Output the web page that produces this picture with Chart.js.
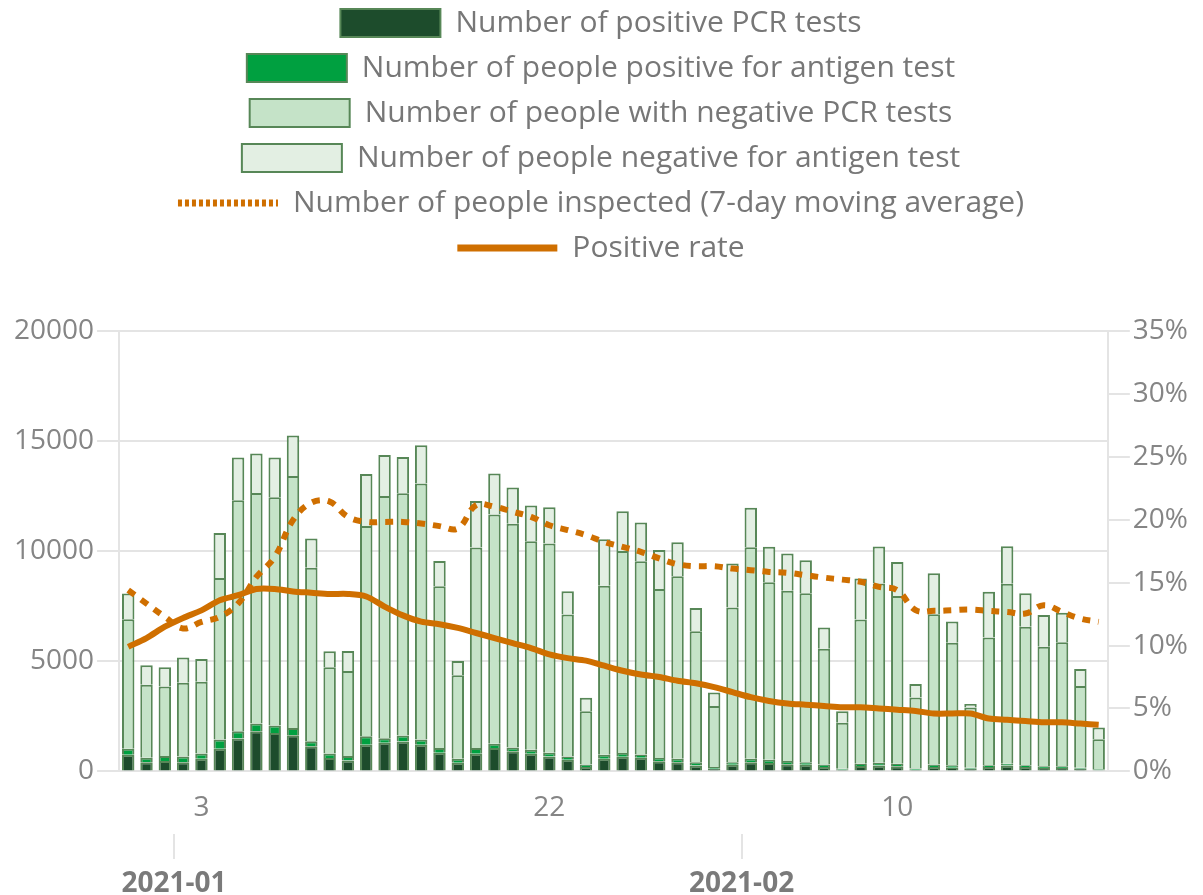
<!DOCTYPE html>
<html>
<head>
<meta charset="utf-8">
<script src="https://cdn.jsdelivr.net/npm/chart.js@4/dist/chart.umd.min.js"></script>
<style>
  body { margin: 0; background: #fff; }
  #wrap { width: 1203px; height: 895px; }
</style>
</head>
<body>
<div id="wrap"><canvas id="tests"></canvas></div>
<script>
const labels = [
  '2020-12-30', '2020-12-31',
  '2021-01-01', '2021-01-02', '2021-01-03', '2021-01-04', '2021-01-05', '2021-01-06', '2021-01-07', '2021-01-08',
  '2021-01-09', '2021-01-10', '2021-01-11', '2021-01-12', '2021-01-13', '2021-01-14', '2021-01-15', '2021-01-16',
  '2021-01-17', '2021-01-18', '2021-01-19', '2021-01-20', '2021-01-21', '2021-01-22', '2021-01-23', '2021-01-24',
  '2021-01-25', '2021-01-26', '2021-01-27', '2021-01-28', '2021-01-29', '2021-01-30', '2021-01-31',
  '2021-02-01', '2021-02-02', '2021-02-03', '2021-02-04', '2021-02-05', '2021-02-06', '2021-02-07', '2021-02-08',
  '2021-02-09', '2021-02-10', '2021-02-11', '2021-02-12', '2021-02-13', '2021-02-14', '2021-02-15', '2021-02-16',
  '2021-02-17', '2021-02-18', '2021-02-19', '2021-02-20', '2021-02-21',
];
const dayTickDates = ['2021-01-03', '2021-01-22', '2021-02-10'];
const monthLabels = ['2021-01', '2021-02'];

const pcrPositive = [760, 420, 470, 420, 580, 1030, 1490, 1820, 1740, 1640, 1140, 610, 500, 1210, 1300, 1360, 1210, 850, 390, 800,
  1060, 910, 800, 680, 530, 200, 580, 670, 620, 460, 420, 270, 120, 300, 420, 380, 320, 300, 200, 80,
  240, 270, 230, 80, 200, 170, 120, 200, 270, 200, 150, 150, 120, 50];
const antigenPositive = [270, 200, 230, 260, 230, 420, 330, 350, 350, 330, 230, 200, 200, 390, 210, 270, 240, 210, 180, 260,
  200, 170, 180, 170, 150, 110, 180, 170, 150, 150, 150, 150, 80, 120, 150, 150, 150, 120, 110, 40,
  110, 120, 120, 50, 110, 110, 50, 80, 80, 80, 80, 80, 50, 50];
const pcrNegative = [5880, 3320, 3150, 3350, 3260, 7330, 10490, 10470, 10360, 11450, 7880, 3920, 3860, 9550, 11000, 11000, 11620, 7350, 3800, 9110,
  10410, 10170, 9470, 9500, 6450, 2420, 7670, 9170, 8770, 7670, 8290, 5940, 2770, 7020, 9610, 8060, 7730, 7670, 5260, 2090,
  6550, 8140, 7610, 3230, 6830, 5560, 2730, 5800, 8170, 6290, 5430, 5640, 3710, 1360];
const antigenNegative = [1170, 880, 880, 1140, 1030, 2050, 1940, 1800, 1800, 1830, 1330, 730, 910, 2360, 1860, 1650, 1740, 1140, 640, 2110,
  1860, 1640, 1620, 1650, 1050, 610, 2110, 1800, 1760, 1770, 1550, 1060, 610, 2000, 1790, 1610, 1700, 1500, 970, 520,
  1860, 1680, 1550, 610, 1860, 970, 160, 2080, 1700, 1520, 1440, 1330, 770, 530];
const movingAverage = [8230, 7620, 7020, 6490, 6790, 7020, 7620, 8830, 9740, 11410, 12200, 12250, 11560, 11330, 11330, 11330, 11260, 11140, 11030, 12090,
  12020, 11790, 11560, 11180, 10960, 10730, 10420, 10200, 9970, 9670, 9410, 9320, 9320, 9210, 9140, 9060, 9020, 8910, 8800, 8710,
  8610, 8380, 8230, 7320, 7290, 7320, 7350, 7290, 7240, 7170, 7550, 7240, 6940, 6790];
const positiveRate = [9.9, 10.6, 11.5, 12.2, 12.8, 13.6, 14.0, 14.5, 14.5, 14.3, 14.2, 14.1, 14.1, 13.9, 13.1, 12.4, 11.9, 11.7, 11.4, 11.0,
  10.6, 10.2, 9.8, 9.3, 9.0, 8.8, 8.4, 8.0, 7.7, 7.5, 7.2, 7.0, 6.7, 6.3, 5.9, 5.6, 5.4, 5.3, 5.2, 5.1,
  5.1, 5.0, 4.9, 4.8, 4.6, 4.6, 4.6, 4.2, 4.1, 4.0, 3.9, 3.9, 3.8, 3.7];

const edge = '#578757';
const orange = '#cf6f00';
const grid = '#e4e4e4';
const textGray = '#858585';

Chart.defaults.font.family = "'Open Sans', sans-serif";
Chart.defaults.font.size = 28;
Chart.defaults.color = textGray;

function bar(label, data, color) {
  return {
    label: label,
    data: data,
    backgroundColor: color,
    borderColor: edge,
    borderWidth: 2,
    categoryPercentage: 1,
    barPercentage: 0.68,
    yAxisID: 'y',
    order: 1,
  };
}

// one legend item per row, and some room between legend and plot
const legendRows = {
  id: 'legendRows',
  afterInit(chart) {
    const fit = chart.legend.fit;
    chart.legend.fit = function () {
      const full = this.maxWidth;
      this.maxWidth = Math.min(full, 1000);
      fit.call(this);
      this.maxWidth = full;
      this.height += 58;
    };
  },
};

const ctx = document.getElementById('tests').getContext('2d');
const testsChart = new Chart(ctx, {
  type: 'bar',
  data: {
    labels: labels,
    datasets: [
      bar('Number of positive PCR tests', pcrPositive, '#1d4c2c'),
      bar('Number of people positive for antigen test', antigenPositive, '#00a040'),
      bar('Number of people with negative PCR tests', pcrNegative, '#c5e3c8'),
      bar('Number of people negative for antigen test', antigenNegative, '#e3efe3'),
      {
        type: 'line',
        label: 'Number of people inspected (7-day moving average)',
        data: movingAverage,
        borderColor: orange,
        backgroundColor: orange,
        borderWidth: 6,
        borderDash: [8, 8],
        legendDash: [4, 3],
        pointRadius: 0,
        tension: 0.4,
        yAxisID: 'y',
        order: 0,
      },
      {
        type: 'line',
        label: 'Positive rate',
        data: positiveRate,
        borderColor: orange,
        backgroundColor: orange,
        borderWidth: 6,
        pointRadius: 0,
        tension: 0.3,
        yAxisID: 'rate',
        order: 0,
      },
    ],
  },
  options: {
    responsive: true,
    maintainAspectRatio: false,
    animation: false,
    layout: {
      padding: { top: -7, left: 11, right: 12, bottom: 0 },
    },
    scales: {
      x: {
        stacked: true,
        grid: { display: false, drawTicks: false },
        border: { display: false },
        ticks: {
          autoSkip: false,
          maxRotation: 0,
          minRotation: 0,
          padding: 20,
          callback: (v, i) => (dayTickDates.includes(labels[i]) ? String(Number(labels[i].slice(8))) : ''),
        },
        afterFit: (s) => {
          s.height -= 11;
        },
      },
      month: {
        type: 'linear',
        position: 'bottom',
        weight: 1,
        offset: false,
        min: -0.5,
        max: labels.length - 0.5,
        afterBuildTicks: (axis) => {
          axis.ticks = monthLabels.map((m) => ({ value: labels.indexOf(m + '-01') + 0.5 }));
        },
        grid: { offset: false, drawOnChartArea: false, tickLength: 25, color: grid, lineWidth: 2 },
        border: { display: false },
        ticks: {
          autoSkip: false,
          maxRotation: 0,
          padding: 11,
          color: '#7a7a7a',
          font: { weight: 'bold', lineHeight: 1 },
          callback: (v) => labels[Math.floor(v)].slice(0, 7),
        },
        afterFit: (s) => {
          s.height -= 14;
        },
      },
      y: {
        stacked: true,
        position: 'left',
        min: 0,
        max: 20000,
        grid: { color: grid, lineWidth: 2, tickLength: 22 },
        border: { color: grid, width: 2 },
        ticks: { stepSize: 5000, padding: 3, callback: (v) => String(v) },
      },
      rate: {
        position: 'right',
        min: 0,
        max: 35,
        grid: { drawOnChartArea: false, color: grid, lineWidth: 2, tickLength: 22 },
        border: { color: grid, width: 2 },
        ticks: { stepSize: 5, padding: 3, callback: (v) => v + '%' },
      },
    },
    plugins: {
      legend: {
        position: 'top',
        labels: {
          usePointStyle: true,
          pointStyleWidth: 100,
          boxWidth: 100,
          boxHeight: 28,
          padding: 15,
          color: '#777',
          font: { size: 30 },
          generateLabels: (chart) =>
            chart.data.datasets.map((ds, i) => {
              const isLine = ds.type === 'line';
              return {
                text: ds.label,
                datasetIndex: i,
                fillStyle: isLine ? ds.borderColor : ds.backgroundColor,
                strokeStyle: ds.borderColor,
                lineWidth: isLine ? 7 : 2,
                lineDash: ds.legendDash || [],
                pointStyle: isLine ? 'line' : 'rect',
                hidden: !chart.isDatasetVisible(i),
                fontColor: '#777',
              };
            }),
        },
      },
      tooltip: { enabled: false },
    },
  },
  plugins: [legendRows],
});
</script>
</body>
</html>
